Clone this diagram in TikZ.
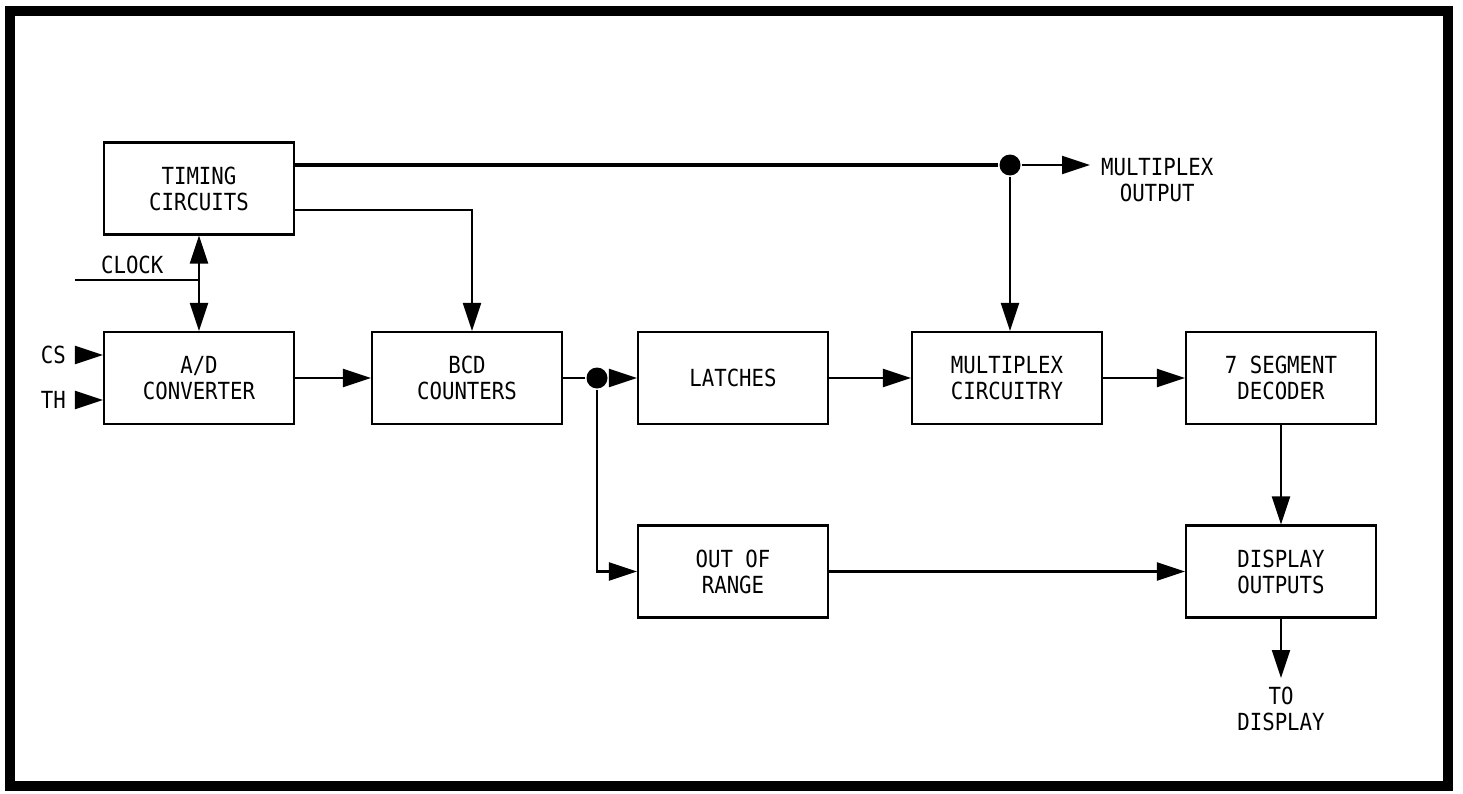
\documentclass[tikz,border=0pt]{standalone}
\usepackage{fontspec}
\newfontfamily\blockfont[FakeStretch=0.88]{DejaVu Sans Mono}
\usetikzlibrary{arrows.meta, positioning, calc}

\begin{document}
\begin{tikzpicture}[>={Triangle[length=2.8mm, width=1.8mm]}, line width=0.6pt,
  block/.style={draw, minimum width=1.9cm, minimum height=0.92cm, align=center,
    font=\blockfont\fontsize{6.7}{7.4}\selectfont},
  lbl/.style={font=\blockfont\fontsize{6.7}{7.4}\selectfont, align=center, inner sep=0pt},
  jdot/.style={circle, fill, inner sep=0pt, minimum size=2.1mm}]

% Frame
\useasboundingbox (0,0) rectangle (14.63,7.93);
\draw[line width=2.6pt] (0.10,0.07) rectangle (14.48,7.82);

% Blocks
\node[block] (timing) at (1.99,6.045) {TIMING\\CIRCUITS};
\node[block] (adc) at (1.99,4.15) {A/D\\CONVERTER};
\node[block] (bcd) at (4.67,4.15) {BCD\\COUNTERS};
\node[block] (latches) at (7.33,4.15) {LATCHES};
\node[block] (mux) at (10.07,4.15) {MULTIPLEX\\CIRCUITRY};
\node[block] (seg) at (12.81,4.15) {7 SEGMENT\\DECODER};
\node[block] (oor) at (7.33,2.215) {OUT OF\\RANGE};
\node[block] (disp) at (12.81,2.215) {DISPLAY\\OUTPUTS};

% Junctions
\node[jdot] (split) at (5.97,4.15) {};
\node[jdot] (tap) at (10.10,6.28) {};

% Multiplex output
\coordinate (muxout) at (10.90,6.28);
\draw[line width=0.9pt] ([yshift=2.35mm]timing.east) -- (tap);
\draw[->] (tap) -- (muxout);
\node[lbl, anchor=west] (muxlbl) at (11.0,6.13) {MULTIPLEX\\OUTPUT};
\draw[->] (tap) -- (tap |- mux.north);

% Timing to counters
\draw[->] ([yshift=-2.15mm]timing.east) -| ([xshift=0.5mm]bcd.north);

% Clock
\draw[<->] (timing) -- (adc);
\coordinate (clk) at (0.75,5.13);
\draw (clk) -- (clk -| adc.north);
\node[lbl, anchor=south west] (clklbl) at (1.00,5.18) {CLOCK};

% Inputs
\coordinate (cs) at (0.76,4.38);
\coordinate (th) at (0.76,3.93);
\draw[->] (cs) -- (cs -| adc.west);
\draw[->] (th) -- (th -| adc.west);
\node[lbl, anchor=east] (cslbl) at (0.67,4.38) {CS};
\node[lbl, anchor=east] (thlbl) at (0.67,3.93) {TH};

% Data path
\draw[->] (adc) -- (bcd);
\draw (bcd) -- (split);
\draw[->] (split) -- (latches);
\draw[->] (split) |- (oor);
\draw[->] (latches) -- (mux);
\draw[->] (mux) -- (seg);
\draw[->] (seg) -- (disp);
\draw[->] (oor) -- (disp);

% To display
\coordinate (todisp) at (12.81,1.15);
\draw[->] (disp) -- (todisp);
\node[lbl] (displbl) at (12.81,0.845) {TO\\DISPLAY};

\end{tikzpicture}
\end{document}
